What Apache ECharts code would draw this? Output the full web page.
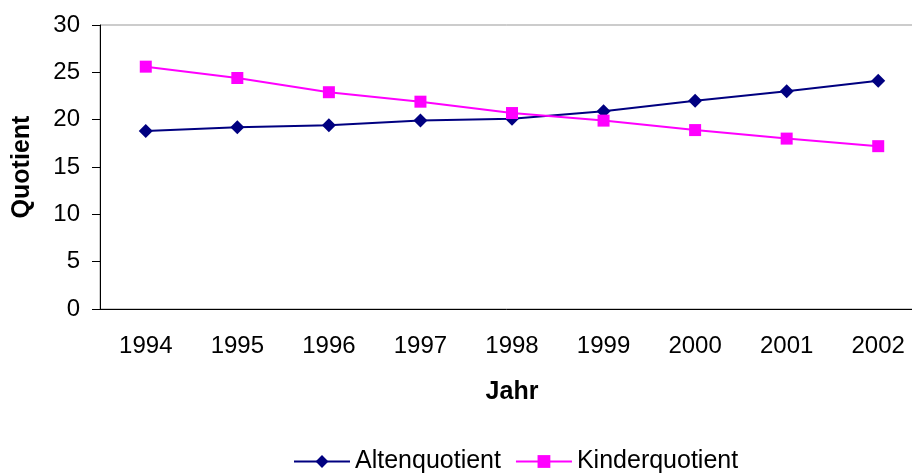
<!DOCTYPE html>
<html lang="de">
<head>
    <meta charset="UTF-8">
    <title>Alten- und Kinderquotient</title>
    <style>body{margin:0;} #main{width:912px;height:475px;}</style>
</head>
<body>
<div id="main"></div>
<script src="https://cdn.jsdelivr.net/npm/echarts@6/dist/echarts.min.js"></script>
<script>
    var jahre = ['1994', '1995', '1996', '1997', '1998', '1999', '2000', '2001', '2002'];
    var altenquotient = [18.8, 19.2, 19.4, 19.9, 20.1, 20.9, 22.0, 23.0, 24.1];
    var kinderquotient = [25.6, 24.4, 22.9, 21.9, 20.7, 19.9, 18.9, 18.0, 17.2];

    var schrift = 'Liberation Sans, Arial, sans-serif';
    var myChart = echarts.init(document.getElementById('main'));
    myChart.setOption({
        animation: false,
        textStyle: {fontFamily: schrift},
        // Zeichenfläche reicht rechts über den Bildrand hinaus (wie im Original abgeschnitten)
        grid: {
            left: 100, top: 25, width: 824, height: 284,
            outerBoundsMode: 'none', containLabel: false,
            show: true, borderColor: '#999', borderWidth: 1
        },
        legend: {
            left: 288, top: 444,
            itemWidth: 56, itemHeight: 16, itemGap: 14,
            textStyle: {fontSize: 25, color: '#000', fontFamily: schrift},
            data: ['Altenquotient', 'Kinderquotient']
        },
        xAxis: {
            type: 'category',
            data: jahre,
            boundaryGap: true,
            name: 'Jahr',
            nameLocation: 'middle',
            nameGap: 71,
            nameTextStyle: {fontSize: 25, fontWeight: 'bold', color: '#000'},
            axisLine: {lineStyle: {color: '#000', width: 1}},
            axisTick: {length: 8, lineStyle: {color: '#000'}},
            axisLabel: {fontSize: 24, color: '#000', margin: 25}
        },
        yAxis: {
            type: 'value',
            min: 0, max: 30, interval: 5,
            name: 'Quotient',
            nameLocation: 'middle',
            nameGap: 65,
            nameTextStyle: {fontSize: 25, fontWeight: 'bold', color: '#000'},
            axisLine: {show: true, lineStyle: {color: '#000', width: 1}},
            axisTick: {show: true, length: 8, lineStyle: {color: '#000'}},
            axisLabel: {fontSize: 24, color: '#000', margin: 20},
            splitLine: {show: false}
        },
        series: [{
            name: 'Altenquotient',
            type: 'line',
            data: altenquotient,
            symbol: 'diamond',
            symbolSize: 14,
            color: '#000080',
            lineStyle: {width: 2, color: '#000080'},
            itemStyle: {color: '#000080'}
        }, {
            name: 'Kinderquotient',
            type: 'line',
            data: kinderquotient,
            symbol: 'rect',
            symbolSize: 12,
            color: '#FF00FF',
            lineStyle: {width: 2, color: '#FF00FF'},
            itemStyle: {color: '#FF00FF'}
        }]
    });
</script>
</body>
</html>
